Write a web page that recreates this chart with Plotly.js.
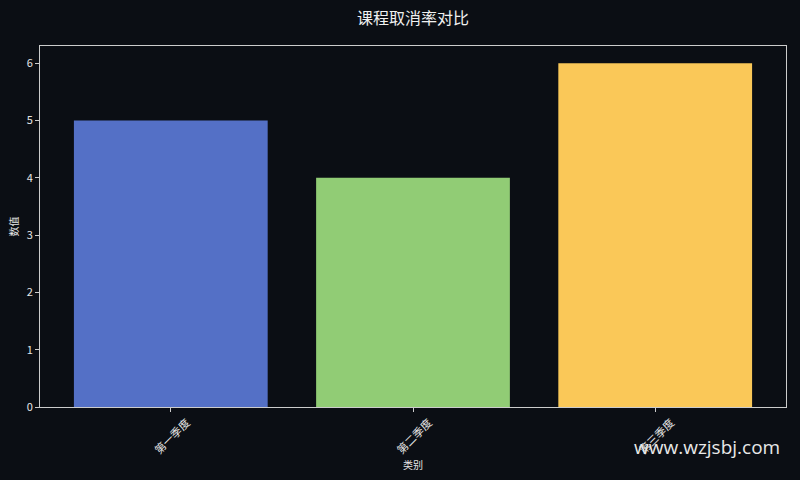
<!DOCTYPE html>
<html>
<head>
<meta charset="utf-8">
<script src="https://cdn.plot.ly/plotly-3.0.1.min.js"></script>
<style>
  html, body { margin: 0; padding: 0; background: #0b0e14; }
  #chart { width: 800px; height: 480px; }
</style>
</head>
<body>
<div id="chart"></div>
<script>
var categories = ['第一季度', '第二季度', '第三季度'];
var values = [5, 4, 6];
var barColors = ['#5470c6', '#91cc75', '#fac858'];

var font = '"Noto Sans CJK SC", "DejaVu Sans", sans-serif';

var data = [{
    type: 'bar',
    x: categories,
    y: values,
    width: 0.8,
    marker: { color: barColors, line: { width: 0 } },
    hoverinfo: 'x+y'
}];

var layout = {
    width: 800,
    height: 480,
    paper_bgcolor: '#0b0e14',
    plot_bgcolor: '#0b0e14',
    font: { family: font, color: '#e6e6e6', size: 11 },
    margin: { l: 40, r: 14, t: 46, b: 73 },
    showlegend: false,
    title: {
        text: '课程取消率对比',
        font: { size: 16, color: '#f0f0f0' },
        xref: 'paper', x: 0.5, xanchor: 'center',
        y: 0.962, yanchor: 'middle'
    },
    xaxis: {
        range: [-0.54, 2.54],
        tickangle: -45,
        ticklabelshift: 16,
        ticks: 'outside', ticklen: 4, tickcolor: '#cccccc',
        showline: true, linecolor: '#cccccc', linewidth: 1, mirror: true,
        showgrid: false, zeroline: false,
        tickfont: { size: 11, color: '#e6e6e6' },
        title: { text: '类别', font: { size: 10, color: '#e6e6e6' }, standoff: 6 }
    },
    yaxis: {
        range: [0, 6.3],
        dtick: 1,
        ticks: 'outside', ticklen: 4, tickcolor: '#cccccc',
        showline: true, linecolor: '#cccccc', linewidth: 1, mirror: true,
        showgrid: false, zeroline: false,
        tickfont: { size: 11, color: '#e6e6e6' },
        title: { text: '数值', font: { size: 10, color: '#e6e6e6' }, standoff: 6 }
    },
    annotations: [{
        text: 'www.wzjsbj.com',
        xref: 'paper', yref: 'paper',
        x: 0.994, y: -0.11, xanchor: 'right', yanchor: 'middle',
        showarrow: false,
        font: { family: '"Open Sans", "DejaVu Sans", sans-serif', size: 19, color: '#e8e8e8' }
    }]
};

Plotly.newPlot('chart', data, layout, { displayModeBar: false });
</script>
</body>
</html>
